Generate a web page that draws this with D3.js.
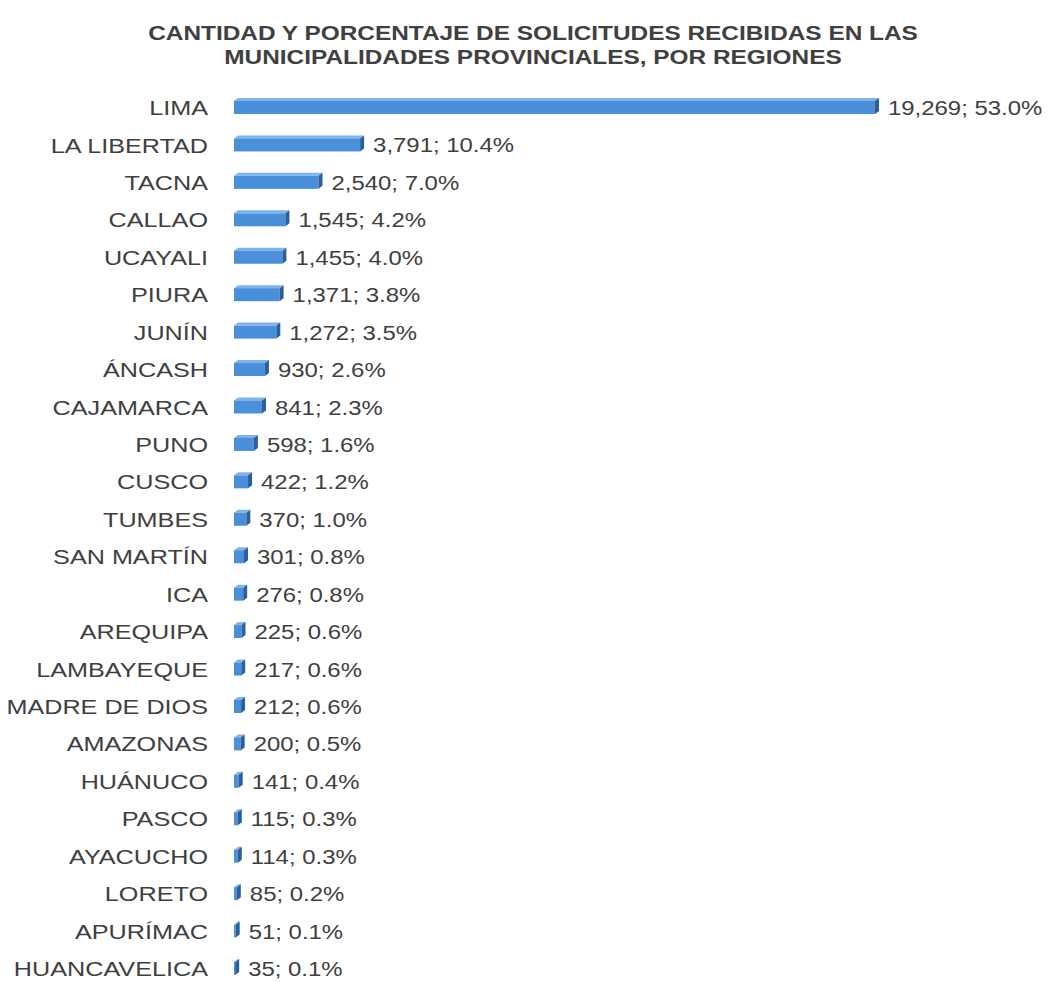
<!DOCTYPE html>
<html>
<head>
<meta charset="utf-8">
<script src="https://cdn.jsdelivr.net/npm/d3@7"></script>
<style>
body { margin: 0; background: #fff; }
text { font-family: "Liberation Sans", Arial, sans-serif; }
</style>
</head>
<body>
<svg width="1048" height="982"></svg>
<script>
// data
var regions = ["LIMA", "LA LIBERTAD", "TACNA", "CALLAO", "UCAYALI", "PIURA", "JUNÍN", "ÁNCASH",
	"CAJAMARCA", "PUNO", "CUSCO", "TUMBES", "SAN MARTÍN", "ICA", "AREQUIPA", "LAMBAYEQUE",
	"MADRE DE DIOS", "AMAZONAS", "HUÁNUCO", "PASCO", "AYACUCHO", "LORETO", "APURÍMAC", "HUANCAVELICA"];
var counts = [19269, 3791, 2540, 1545, 1455, 1371, 1272, 930, 841, 598, 422, 370, 301, 276, 225,
	217, 212, 200, 141, 115, 114, 85, 51, 35];
var percents = ["53.0%", "10.4%", "7.0%", "4.2%", "4.0%", "3.8%", "3.5%", "2.6%", "2.3%", "1.6%",
	"1.2%", "1.0%", "0.8%", "0.8%", "0.6%", "0.6%", "0.6%", "0.5%", "0.4%", "0.3%", "0.3%",
	"0.2%", "0.1%", "0.1%"];
var titleLines = ["CANTIDAD Y PORCENTAJE DE SOLICITUDES RECIBIDAS EN LAS",
	"MUNICIPALIDADES PROVINCIALES, POR REGIONES"];

// bar look
var bar_h = 13, dx = 4, dy = 3;
// the original text is a bit wider than Arial
var label_stretch = 1.2, value_stretch = 1.14;
var fmt = d3.format(",");

var svg = d3.select("svg");
var data = regions.map(function (r, i) {
	return { region: r, count: counts[i], pct: percents[i] };
});

var x = d3.scaleLinear().domain([0, 19269]).range([234, 875]);
// row centres (text middle)
var y = d3.scalePoint().domain(regions).range([107.5, 968.5]);

// title
svg.append("g").selectAll("text")
	.data(titleLines)
	.enter().append("text")
	.attr("transform", function (d, i) {
		return "translate(533," + (40 + i * 24) + ") scale(1.22,1)";
	})
	.attr("text-anchor", "middle")
	.attr("fill", "#404040")
	.attr("font-weight", "bold")
	.attr("font-size", "20px")
	.text(function (d) { return d; });

var row = svg.selectAll(".row")
	.data(data)
	.enter().append("g")
	.attr("class", "row")
	.attr("transform", function (d) { return "translate(0," + y(d.region) + ")"; });

// category labels
row.append("text")
	.attr("transform", "translate(208,0) scale(" + label_stretch + ",1)")
	.attr("dy", "0.36em")
	.attr("text-anchor", "end")
	.attr("fill", "#404040")
	.attr("font-size", "21px")
	.text(function (d) { return d.region; });

var top_y = -6.5;
// top face
row.append("polygon")
	.attr("fill", "#80b3e6")
	.attr("points", function (d) {
		var x0 = x(0), x1 = x(d.count);
		return [[x0, top_y], [x0 + dx, top_y - dy], [x1 + dx, top_y - dy], [x1, top_y]].join(" ");
	});
// front face
row.append("rect")
	.attr("x", x(0))
	.attr("y", top_y)
	.attr("width", function (d) { return x(d.count) - x(0); })
	.attr("height", bar_h)
	.attr("fill", "#4a8fd9");
// side face
row.append("polygon")
	.attr("fill", "#2c5f9e")
	.attr("points", function (d) {
		var x1 = x(d.count);
		return [[x1, top_y], [x1 + dx, top_y - dy], [x1 + dx, top_y + bar_h - dy], [x1, top_y + bar_h]].join(" ");
	});

// value labels
row.append("text")
	.attr("transform", function (d) {
		return "translate(" + (x(d.count) + dx + 9) + ",0) scale(" + value_stretch + ",1)";
	})
	.attr("dy", "0.36em")
	.attr("fill", "#404040")
	.attr("font-size", "21px")
	.text(function (d) { return fmt(d.count) + "; " + d.pct; });
</script>
</body>
</html>
